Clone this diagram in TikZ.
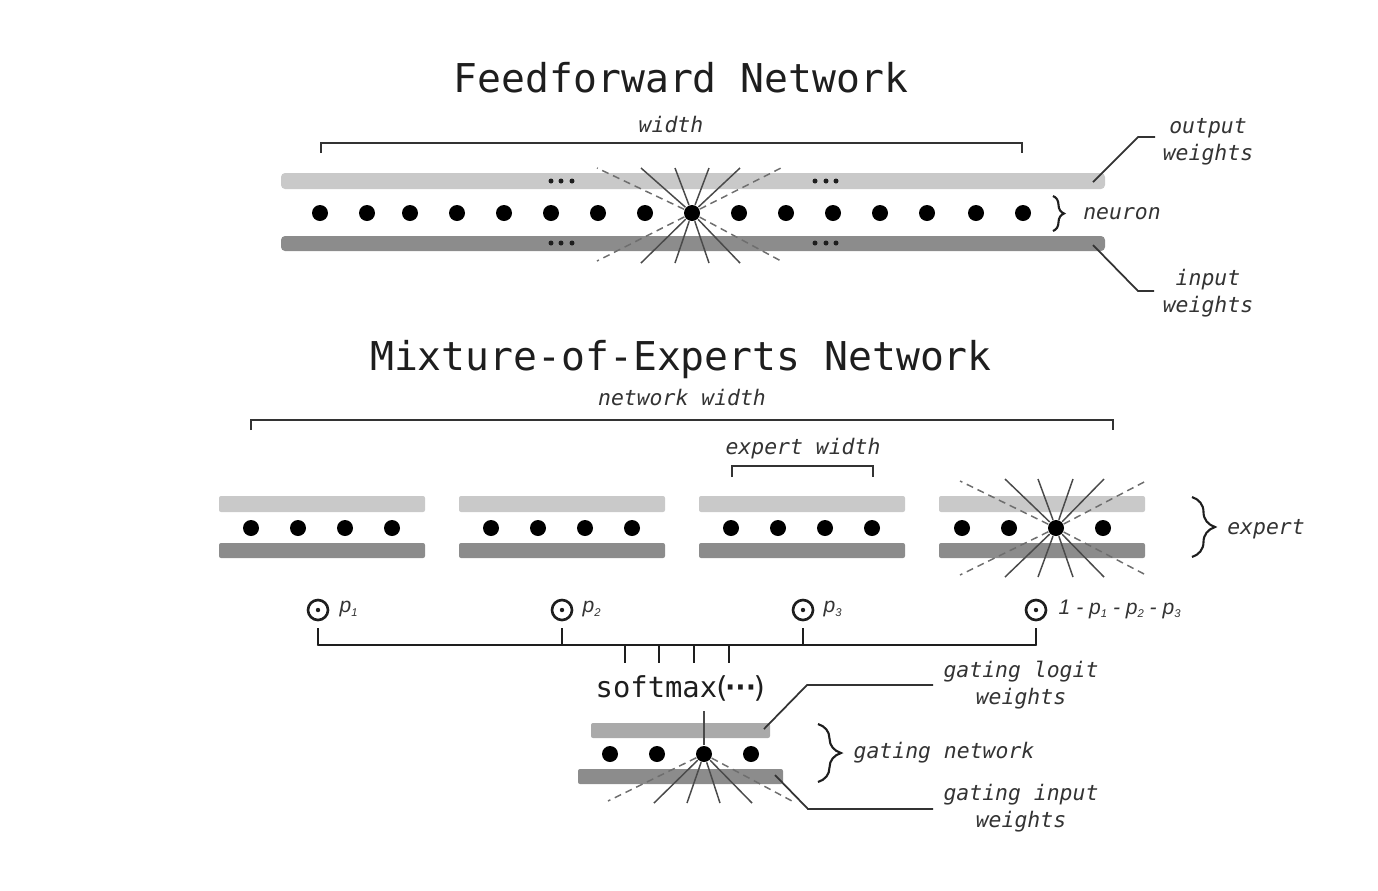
\documentclass[tikz,border=0pt]{standalone}
\usepackage{fontspec}
\setmonofont{DejaVu Sans Mono}
\newfontfamily\probfont{Liberation Sans}
\usetikzlibrary{decorations.pathreplacing}
\definecolor{ink}{HTML}{1E1E1E}
\definecolor{label}{HTML}{333333}
\definecolor{outbar}{HTML}{C9C9C9}
\definecolor{inbar}{HTML}{8C8C8C}
\definecolor{gatebar}{HTML}{AAAAAA}
\definecolor{spokecol}{HTML}{4A4A4A}
\newcommand{\softdots}{(\kern-.3em{\bfseries\textperiodcentered}\kern-.24em{\bfseries\textperiodcentered}\kern-.24em{\bfseries\textperiodcentered}\kern-.3em)}
\newcommand{\psub}[1]{\raisebox{-0.35ex}{\fontsize{3.2}{4}\selectfont #1}}

\begin{document}
\begin{tikzpicture}[x=0.1mm,y=-0.1mm,
  title/.style={font=\ttfamily\fontsize{11.3}{13}\selectfont,text=ink},
  note/.style={font=\ttfamily\itshape\fontsize{6.1}{7.7}\selectfont,text=label,align=center},
  neuron/.style={circle,fill=black,inner sep=0pt,minimum size=1.6mm},
  spoke/.style={draw=spokecol,line width=0.42pt},
  dspoke/.style={draw=spokecol!80,line width=0.42pt,dash pattern=on 2pt off 1.4pt},
  leader/.style={draw=label,line width=0.5pt},
  bracket/.style={draw=label,line width=0.55pt},
  bus/.style={draw=ink,line width=0.7pt},
  curly/.style={draw=ink,line width=0.6pt,decorate},
  pgate/.style={circle,draw=ink,line width=0.75pt,inner sep=0pt,minimum size=2mm},
  pnote/.style={font=\probfont\itshape\fontsize{6}{7}\selectfont,text=label,anchor=west,inner sep=0pt}]
  \useasboundingbox (0,0) rectangle (1378,890);

  % Upper network: one wide layer.
  \node[title] (fftitle) at (681,78) {Feedforward Network};
  \node[note] (ffwidth) at (671,124) {width};
  \coordinate (ffbl) at (321,153);
  \coordinate (ffbr) at (1022,153);
  \draw[bracket] (ffbl) -- (321,143) -- (1022,143) -- (ffbr);

  \fill[outbar,rounded corners=0.4mm] (281,173) rectangle (1105,189);
  \fill[inbar,rounded corners=0.4mm] (281,236) rectangle (1105,251);
  \foreach \x in {551,561,572,815,826,836}{
    \fill[ink] (\x,181) circle (0.25mm);
    \fill[ink] (\x,243) circle (0.25mm);
  }

  \foreach \x[count=\i] in {320,367,410,457,504,551,598,645,739,786,833,880,927,976,1023}
    \node[neuron] (ff\i) at (\x,213) {};
  \node[neuron] (ffhub) at (692,213) {};
  \foreach \x[count=\i] in {641,675,709,740}{
    \coordinate (ffup\i) at (\x,168);
    \coordinate (ffdn\i) at (\x,263);
    \draw[spoke] (ffhub) -- (ffup\i);
    \draw[spoke] (ffhub) -- (ffdn\i);
  }
  \foreach \x[count=\i] in {597,781}{
    \coordinate (ffdup\i) at (\x,168);
    \coordinate (ffddn\i) at (\x,261);
    \draw[dspoke] (ffhub) -- (ffdup\i);
    \draw[dspoke] (ffhub) -- (ffddn\i);
  }

  \coordinate (ffbt) at (1053,196);
  \coordinate (ffbb) at (1053,231);
  \draw[curly,decoration={brace,amplitude=1.1mm}] (ffbt) -- (ffbb);
  \node[note] (ffneuron) at (1122,214) {neuron};

  \node[note] (ffout) at (1208,142) {output\\weights};
  \coordinate (ffoa) at (1093,182);
  \draw[leader] (ffoa) -- (1138,137) -- (1155,137);
  \node[note] (ffin) at (1208,293) {input\\weights};
  \coordinate (ffia) at (1093,245);
  \draw[leader] (ffia) -- (1138,291) -- (1154,291);

  % Lower network: four experts and the gate.
  \node[title] (moetitle) at (681,360) {Mixture-of-Experts Network};
  \node[note] (moewidth) at (682,397) {network width};
  \coordinate (moebl) at (251,430);
  \coordinate (moebr) at (1113,430);
  \draw[bracket] (moebl) -- (251,420) -- (1113,420) -- (moebr);
  \node[note] (expwidth) at (803,449) {expert width};
  \coordinate (expbl) at (732,477);
  \coordinate (expbr) at (873,477);
  \draw[bracket] (expbl) -- (732,466) -- (873,466) -- (expbr);

  \foreach \x in {219,459,699,939}{
    \fill[outbar,rounded corners=0.2mm] (\x,496) rectangle (\x+206,512);
    \fill[inbar,rounded corners=0.2mm] (\x,543) rectangle (\x+206,558);
  }
  \foreach \x[count=\i] in {251,298,345,392,491,538,585,632,731,778,825,872,962,1009,1103}
    \node[neuron] (exp\i) at (\x,528) {};
  \node[neuron] (exphub) at (1056,528) {};
  \foreach \x[count=\i] in {1005,1038,1073,1104}{
    \coordinate (expup\i) at (\x,479);
    \coordinate (expdn\i) at (\x,577);
    \draw[spoke] (exphub) -- (expup\i);
    \draw[spoke] (exphub) -- (expdn\i);
  }
  \foreach \x[count=\i] in {960,1146}{
    \coordinate (expdup\i) at (\x,481);
    \coordinate (expddn\i) at (\x,575);
    \draw[dspoke] (exphub) -- (expdup\i);
    \draw[dspoke] (exphub) -- (expddn\i);
  }

  \coordinate (expbt) at (1192,497);
  \coordinate (expbb) at (1192,557);
  \draw[curly,decoration={brace,amplitude=2.3mm}] (expbt) -- (expbb);
  \node[note] (expert) at (1266,529) {expert};

  % Mixing probabilities and their bus.
  \foreach \x[count=\i] in {318,562,803,1036}
    \node[pgate] (pg\i) at (\x,610) {};
  \foreach \i in {1,2,3,4}
    \fill[ink] (pg\i) circle (0.22mm);
  \node[pnote] (pl1) at (339,609) {p\psub{1}};
  \node[pnote] (pl2) at (582,609) {p\psub{2}};
  \node[pnote] (pl3) at (823,609) {p\psub{3}};
  \node[pnote] (pl4) at (1058,609) {1 - p\psub{1} - p\psub{2} - p\psub{3}};

  \foreach \x[count=\i] in {318,562,803,1036}{
    \coordinate (stem\i) at (\x,628);
    \coordinate (join\i) at (\x,645);
    \draw[bus] (stem\i) -- (join\i);
  }
  \draw[bus,line cap=round] (join1) -- (join4);
  \foreach \x[count=\i] in {625,659,694,729}{
    \coordinate (tt\i) at (\x,645);
    \coordinate (tb\i) at (\x,663);
    \draw[bus] (tt\i) -- (tb\i);
  }
  \node[font=\ttfamily\fontsize{8.2}{10}\selectfont,text=ink,anchor=west,inner sep=0pt]
    (softmax) at (595,688) {softmax\kern-.15em\softdots};

  % Gate.
  \fill[gatebar,rounded corners=0.2mm] (591,723) rectangle (770,738);
  \fill[inbar,rounded corners=0.2mm] (578,769) rectangle (783,784);
  \foreach \x[count=\i] in {610,657,751}
    \node[neuron] (gt\i) at (\x,754) {};
  \node[neuron] (gthub) at (704,754) {};
  \coordinate (gtout) at (704,711);
  \draw[spoke,line width=0.5pt] (gthub) -- (gtout);
  \foreach \x[count=\i] in {654,687,720,752}{
    \coordinate (gtdn\i) at (\x,803);
    \draw[spoke] (gthub) -- (gtdn\i);
  }
  \foreach \x[count=\i] in {608,792}{
    \coordinate (gtddn\i) at (\x,801);
    \draw[dspoke] (gthub) -- (gtddn\i);
  }

  \coordinate (gtbt) at (818,724);
  \coordinate (gtbb) at (818,782);
  \draw[curly,decoration={brace,amplitude=2.3mm}] (gtbt) -- (gtbb);
  \node[note] (gtnet) at (944,753) {gating network};

  \node[note] (gtlogit) at (1021,685) {gating logit\\weights};
  \coordinate (gtla) at (764,729);
  \draw[leader] (gtla) -- (807,685) -- (933,685);
  \node[note] (gtinput) at (1021,808) {gating input\\weights};
  \coordinate (gtia) at (775,775);
  \draw[leader] (gtia) -- (808,809) -- (933,809);
\end{tikzpicture}
\end{document}
